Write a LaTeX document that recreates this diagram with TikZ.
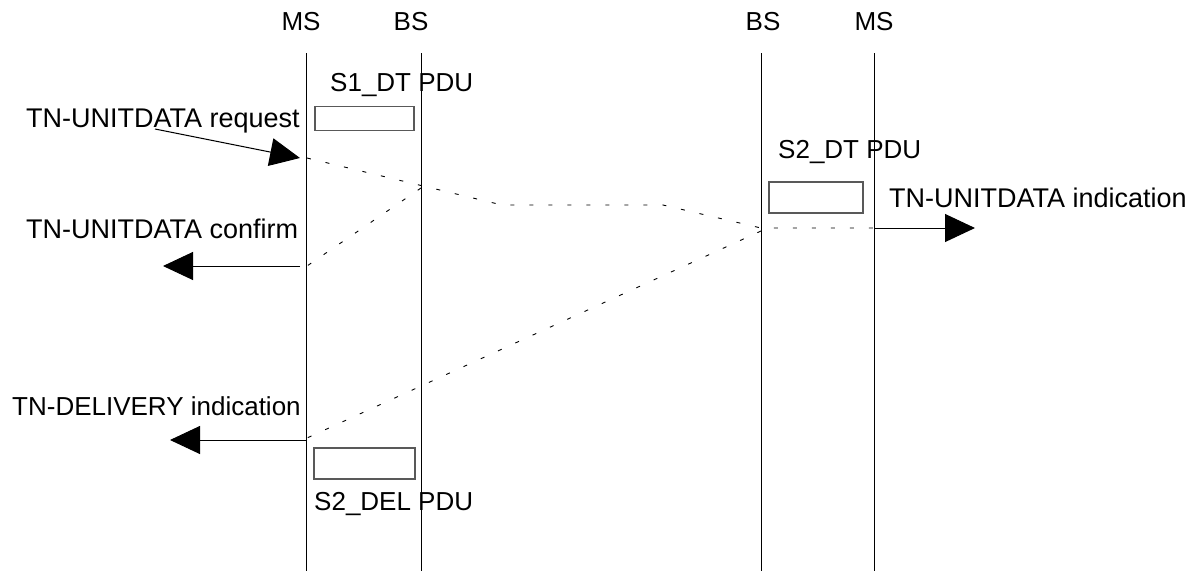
\documentclass[tikz,border=0pt]{standalone}
\usepackage{fontspec}
\setmainfont{Liberation Sans}
\usetikzlibrary{arrows.meta}
\begin{document}
\begin{tikzpicture}[x=1pt,y=-1pt,
  lbl/.style={font=\fontsize{26}{30}\selectfont, inner sep=0pt, anchor=base west},
  wlbl/.style={font=\fontsize{27}{31}\selectfont, inner sep=0pt, anchor=base west},
  hdr/.style={font=\fontsize{26}{30}\selectfont, inner sep=0pt, anchor=base},
  life/.style={line width=1pt, black},
  pdubox/.style={draw=black!65, line width=1.2pt, inner sep=0pt},
  sig/.style={dash pattern=on 4pt off 15pt, line width=0.9pt},
  big/.style={-{Triangle[length=30pt,width=28pt]}, line width=1pt}]
\useasboundingbox (0,0) rectangle (1202,571);
% headers
\node[hdr] (hms1) at (301,30) {MS};
\node[hdr] (hbs1) at (411,30) {BS};
\node[hdr] (hbs2) at (763,30) {BS};
\node[hdr] (hms2) at (874,30) {MS};
% lifelines
\coordinate (ms1t) at (306,53); \coordinate (ms1b) at (306,571);
\coordinate (bs1t) at (421,53); \coordinate (bs1b) at (421,571);
\coordinate (bs2t) at (761,53); \coordinate (bs2b) at (761,571);
\coordinate (ms2t) at (874,53); \coordinate (ms2b) at (874,571);
\draw[life] (ms1t) -- (ms1b);
\draw[life] (bs1t) -- (bs1b);
\draw[life] (bs2t) -- (bs2b);
\draw[life] (ms2t) -- (ms2b);
% PDU boxes
\node[pdubox, minimum width=99pt, minimum height=24pt] (box1) at (364.5,118.5) {};
\node[pdubox, minimum width=94pt, minimum height=31pt] (box2) at (816,197.5) {};
\node[pdubox, minimum width=101pt, minimum height=31pt] (box3) at (364.5,463.5) {};
\node[lbl] (l1) at (330,91) {S1\_DT PDU};
\node[lbl] (l2) at (778,158) {S2\_DT PDU};
\node[lbl] (l3) at (314,510) {S2\_DEL PDU};
% primitives
\node[wlbl] (treq) at (26,127) {TN-UNITDATA request};
\node[wlbl] (tcon) at (26,238) {TN-UNITDATA confirm};
\node[wlbl] (tind) at (889,207) {TN-UNITDATA indication};
\node[lbl] (tdel) at (12,415) {TN-DELIVERY indication};
\coordinate (reqs) at (155,129); \coordinate (reqe) at (300,158);
\coordinate (cons) at (300,266); \coordinate (cone) at (163,266);
\coordinate (dels) at (306,440); \coordinate (dele) at (170,440);
\coordinate (inds) at (874,228); \coordinate (inde) at (975,228);
\draw[big] (reqs) -- (reqe);
\draw[big] (cons) -- (cone);
\draw[big] (dels) -- (dele);
\draw[big] (inds) -- (inde);
% dashed signal paths
\coordinate (p1) at (307,158);
\coordinate (p2) at (502,205);
\coordinate (p3) at (663,205);
\coordinate (p4) at (761,228);
\coordinate (p5) at (874,228);
\coordinate (q1) at (421,188);
\coordinate (q2) at (307,266);
\coordinate (r1) at (761,231);
\coordinate (r2) at (307,438);
\draw[sig] (p1) -- (p2) -- (p3) -- (p4) -- (p5);
\draw[sig] (q1) -- (q2);
\draw[sig] (r1) -- (r2);
\end{tikzpicture}
\end{document}
